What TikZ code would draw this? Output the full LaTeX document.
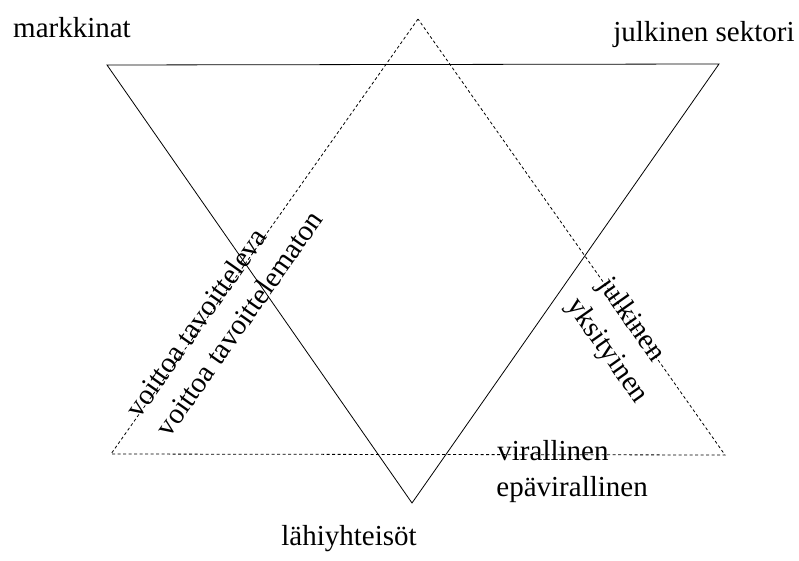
\documentclass[tikz,border=0pt]{standalone}
\usepackage{fontspec}
\setmainfont{Liberation Serif}
\begin{document}
\begin{tikzpicture}[x=1pt, y=-1pt, line width=0.8pt,
        lbl/.style = {font=\fontsize{29}{35}\selectfont, inner sep=0pt, anchor=base},
        dsh/.style = {dash pattern=on 3pt off 2.5pt}]
        \useasboundingbox (0,0) rectangle (799,561);
        % solid triangle
        \coordinate (m) at (107,65);
        \coordinate (s) at (719,64);
        \coordinate (l) at (412,503);
        % dashed triangle
        \coordinate (dt) at (418,19);
        \coordinate (dl) at (111,454);
        \coordinate (dr) at (725,455);
        \draw (m) -- (s) -- (l) -- cycle;
        \draw[dsh] (dt) -- (dl) -- (dr) -- cycle;
        \node[lbl] (mk) at (72,38) {markkinat};
        \node[lbl] (js) at (704,42) {julkinen sektori};
        \node[lbl] (lh) at (349,545) {lähiyhteisöt};
        \node[lbl, rotate=54.8] (vt) at (204,328) {voittoa tavoitteleva};
        \node[lbl, rotate=54.8] (vm) at (247,329) {voittoa tavoittelematon};
        \node[lbl, rotate=-54.9] (jk) at (625,324) {julkinen};
        \node[lbl, rotate=-54.9] (yk) at (601,355) {yksityinen};
        \node[lbl, anchor=base west] (vi) at (497,460) {virallinen};
        \node[lbl, anchor=base west] (ev) at (496,496) {epävirallinen};
\end{tikzpicture}
\end{document}
